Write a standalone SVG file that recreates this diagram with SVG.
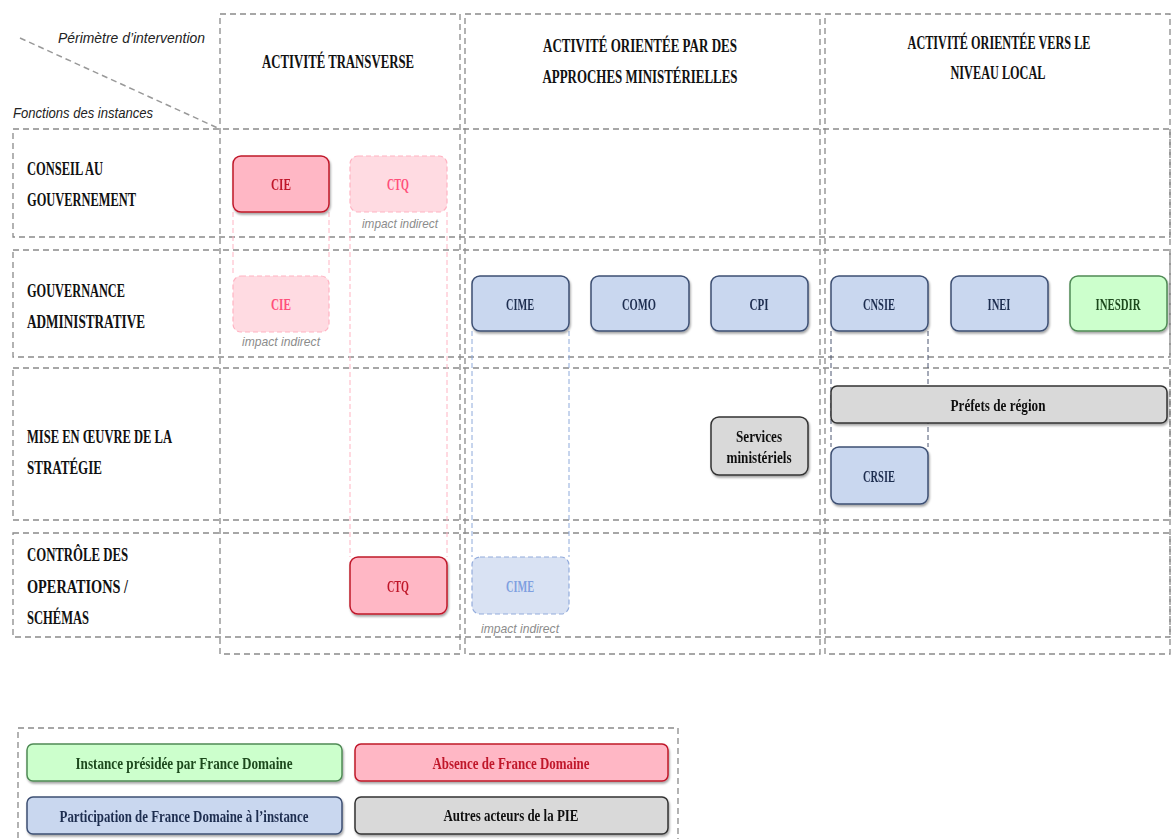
<svg xmlns="http://www.w3.org/2000/svg" width="1171" height="839" viewBox="0 0 1171 839">
<style>
.grid{fill:none;stroke:#8a8a8a;stroke-width:1.3;stroke-dasharray:6 4}
.hdr{font-family:"Liberation Serif",serif;font-weight:bold;font-size:18px;fill:#111}
.hc{text-anchor:middle}
.lbl{font-family:"Liberation Serif",serif;font-weight:bold;font-size:17px;text-anchor:middle}
.it{font-family:"Liberation Sans",sans-serif;font-style:italic;font-size:15px;fill:#222}
.ind{font-family:"Liberation Sans",sans-serif;font-style:italic;font-size:13px;fill:#8c8c8c;text-anchor:middle}
.red{fill:#ffb7c5;stroke:#c0182a;stroke-width:1.5}
.redf{fill:#ffdbe2;stroke:#ffb3c2;stroke-width:1.2;stroke-dasharray:5 3}
.blue{fill:#c9d7ef;stroke:#3c4f73;stroke-width:1.5}
.bluef{fill:#d9e2f3;stroke:#93acdc;stroke-width:1.2;stroke-dasharray:5 3}
.green{fill:#ccffcc;stroke:#4f8a55;stroke-width:1.5}
.gray{fill:#d9d9d9;stroke:#333;stroke-width:1.5}
.tr{fill:#c0182a}.trf{fill:#ff4f7a}.tb{fill:#1f2d50}.tbf{fill:#7f9fe0}.tg{fill:#1f4a1f}.tk{fill:#111}
.cp{fill:none;stroke:#ffb3c2;stroke-width:1;stroke-dasharray:5 3}
.cb{fill:none;stroke:#8eaadb;stroke-width:1;stroke-dasharray:5 3}
.cd{fill:none;stroke:#4a5570;stroke-width:1;stroke-dasharray:5 3}
</style>
<defs>
<filter id="sh" x="-10%" y="-10%" width="130%" height="140%"><feDropShadow dx="1" dy="2" stdDeviation="1.2" flood-color="#000" flood-opacity="0.35"/></filter>
</defs>
<rect width="1171" height="839" fill="#fff"/>
<g id="grid">
<rect class="grid" x="220" y="14" width="240" height="640"/>
<rect class="grid" x="465" y="14" width="355" height="640"/>
<rect class="grid" x="825" y="14" width="345" height="640"/>
<rect class="grid" x="13" y="129" width="1157" height="108"/>
<rect class="grid" x="13" y="250" width="1157" height="107"/>
<rect class="grid" x="13" y="368" width="1157" height="152"/>
<rect class="grid" x="13" y="533" width="1157" height="104"/>
<line x1="20" y1="38" x2="220" y2="129" stroke="#999" stroke-width="1.5" stroke-dasharray="6 4"/>
</g>
<g id="headers">
<text class="it" x="58" y="43" textLength="147" lengthAdjust="spacingAndGlyphs">Périmètre d’intervention</text>
<text class="it" x="13" y="118" textLength="140" lengthAdjust="spacingAndGlyphs">Fonctions des instances</text>
<text class="hdr hc" x="338" y="68" textLength="152" lengthAdjust="spacingAndGlyphs">ACTIVITÉ TRANSVERSE</text>
<text class="hdr hc" x="640" y="52" textLength="194" lengthAdjust="spacingAndGlyphs">ACTIVITÉ ORIENTÉE PAR DES</text>
<text class="hdr hc" x="640" y="83" textLength="195" lengthAdjust="spacingAndGlyphs">APPROCHES MINISTÉRIELLES</text>
<text class="hdr hc" transform="translate(999,49) scale(0.68,1)" x="0" y="0">ACTIVITÉ ORIENTÉE VERS LE</text>
<text class="hdr hc" x="998" y="79" textLength="95" lengthAdjust="spacingAndGlyphs">NIVEAU LOCAL</text>
<text class="hdr" x="27" y="175" textLength="76" lengthAdjust="spacingAndGlyphs">CONSEIL AU</text>
<text class="hdr" x="27" y="206" textLength="109" lengthAdjust="spacingAndGlyphs">GOUVERNEMENT</text>
<text class="hdr" x="27" y="297" textLength="98" lengthAdjust="spacingAndGlyphs">GOUVERNANCE</text>
<text class="hdr" x="27" y="328" textLength="118" lengthAdjust="spacingAndGlyphs">ADMINISTRATIVE</text>
<text class="hdr" x="27" y="443" textLength="145" lengthAdjust="spacingAndGlyphs">MISE EN ŒUVRE DE LA</text>
<text class="hdr" x="27" y="474" textLength="75" lengthAdjust="spacingAndGlyphs">STRATÉGIE</text>
<text class="hdr" x="27" y="561" textLength="101" lengthAdjust="spacingAndGlyphs">CONTRÔLE DES</text>
<text class="hdr" x="27" y="593" textLength="101" lengthAdjust="spacingAndGlyphs">OPERATIONS /</text>
<text class="hdr" x="27" y="624" textLength="62" lengthAdjust="spacingAndGlyphs">SCHÉMAS</text>
</g>
<g id="connectors">
<line class="cp" x1="233" y1="212" x2="233" y2="276"/>
<line class="cp" x1="329" y1="212" x2="329" y2="276"/>
<line class="cp" x1="350" y1="212" x2="350" y2="557"/>
<line class="cp" x1="447" y1="212" x2="447" y2="557"/>
<line class="cb" x1="472" y1="331" x2="472" y2="557"/>
<line class="cb" x1="569" y1="331" x2="569" y2="557"/>
<line class="cd" x1="831" y1="331" x2="831" y2="447"/>
<line class="cd" x1="928" y1="331" x2="928" y2="447"/>
</g>
<g id="cie1" filter="url(#sh)"><rect class="red" x="233" y="156" width="96" height="56" rx="8"/><text class="lbl tr" x="281" y="190" textLength="20" lengthAdjust="spacingAndGlyphs">CIE</text></g>
<g id="ctq1"><rect class="redf" x="350" y="156" width="97" height="56" rx="8"/><text class="lbl trf" x="398" y="190" textLength="22" lengthAdjust="spacingAndGlyphs">CTQ</text><text class="ind" x="400" y="228" textLength="76" lengthAdjust="spacingAndGlyphs">impact indirect</text></g>
<g id="cie2"><rect class="redf" x="233" y="276" width="96" height="56" rx="8"/><text class="lbl trf" x="281" y="310" textLength="20" lengthAdjust="spacingAndGlyphs">CIE</text><text class="ind" x="281" y="346" textLength="78" lengthAdjust="spacingAndGlyphs">impact indirect</text></g>
<g id="ctq2" filter="url(#sh)"><rect class="red" x="350" y="557" width="97" height="57" rx="8"/><text class="lbl tr" x="398" y="592" textLength="22" lengthAdjust="spacingAndGlyphs">CTQ</text></g>
<g id="cime1" filter="url(#sh)"><rect class="blue" x="472" y="276" width="97" height="55" rx="8"/><text class="lbl tb" x="520" y="310" textLength="28" lengthAdjust="spacingAndGlyphs">CIME</text></g>
<g id="como" filter="url(#sh)"><rect class="blue" x="591" y="276" width="98" height="55" rx="8"/><text class="lbl tb" x="639" y="310" textLength="34" lengthAdjust="spacingAndGlyphs">COMO</text></g>
<g id="cpi" filter="url(#sh)"><rect class="blue" x="711" y="276" width="97" height="55" rx="8"/><text class="lbl tb" x="759" y="310" textLength="19" lengthAdjust="spacingAndGlyphs">CPI</text></g>
<g id="cnsie" filter="url(#sh)"><rect class="blue" x="831" y="276" width="97" height="55" rx="8"/><text class="lbl tb" x="879" y="310" textLength="32" lengthAdjust="spacingAndGlyphs">CNSIE</text></g>
<g id="inei" filter="url(#sh)"><rect class="blue" x="951" y="276" width="97" height="55" rx="8"/><text class="lbl tb" x="999" y="310" textLength="23" lengthAdjust="spacingAndGlyphs">INEI</text></g>
<g id="inesdir" filter="url(#sh)"><rect class="green" x="1070" y="276" width="97" height="55" rx="8"/><text class="lbl tg" x="1118" y="310" textLength="45" lengthAdjust="spacingAndGlyphs">INESDIR</text></g>
<g id="cime2"><rect class="bluef" x="472" y="557" width="97" height="57" rx="8"/><text class="lbl tbf" x="520" y="592" textLength="28" lengthAdjust="spacingAndGlyphs">CIME</text><text class="ind" x="520" y="633" textLength="78" lengthAdjust="spacingAndGlyphs">impact indirect</text></g>
<g id="prefets" filter="url(#sh)"><rect class="gray" x="831" y="386" width="336" height="37" rx="6"/><text class="lbl tk" x="998" y="411" textLength="95" lengthAdjust="spacingAndGlyphs">Préfets de région</text></g>
<g id="services" filter="url(#sh)"><rect class="gray" x="711" y="417" width="97" height="58" rx="8"/><text class="lbl tk" x="759" y="442" textLength="46" lengthAdjust="spacingAndGlyphs">Services</text><text class="lbl tk" x="759" y="463" textLength="65" lengthAdjust="spacingAndGlyphs">ministériels</text></g>
<g id="crsie" filter="url(#sh)"><rect class="blue" x="831" y="447" width="97" height="57" rx="8"/><text class="lbl tb" x="879" y="482" textLength="32" lengthAdjust="spacingAndGlyphs">CRSIE</text></g>
<g id="legend">
<rect class="grid" x="18" y="728" width="660" height="120"/>
<g id="leg-green" filter="url(#sh)"><rect class="green" x="27" y="744" width="315" height="37" rx="6"/><text class="lbl tg" x="184" y="769" font-size="16" textLength="217" lengthAdjust="spacingAndGlyphs">Instance  présidée par France Domaine</text></g>
<g id="leg-red" filter="url(#sh)"><rect class="red" x="355" y="744" width="313" height="37" rx="6"/><text class="lbl tr" x="511" y="769" font-size="16" textLength="157" lengthAdjust="spacingAndGlyphs">Absence de France Domaine</text></g>
<g id="leg-blue" filter="url(#sh)"><rect class="blue" x="27" y="797" width="315" height="37" rx="6"/><text class="lbl tb" x="184" y="822" font-size="16" textLength="249" lengthAdjust="spacingAndGlyphs">Participation de France Domaine à l’instance</text></g>
<g id="leg-gray" filter="url(#sh)"><rect class="gray" x="355" y="797" width="313" height="37" rx="6"/><text class="lbl tk" x="511" y="821" font-size="16" textLength="135" lengthAdjust="spacingAndGlyphs">Autres acteurs de la PIE</text></g>
</g>
</svg>
